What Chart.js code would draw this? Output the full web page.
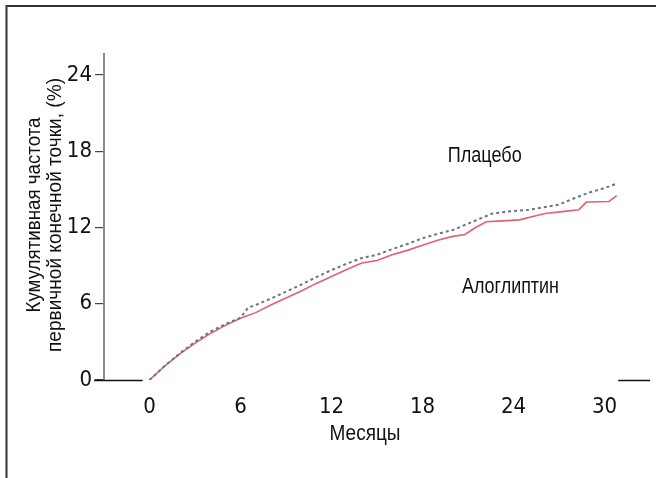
<!DOCTYPE html>
<html>
<head>
<meta charset="utf-8">
<script src="https://cdn.jsdelivr.net/npm/chart.js@4.4.1/dist/chart.umd.min.js"></script>
<style>
  html, body { margin: 0; padding: 0; background: #ffffff; }
  #wrap { width: 656px; height: 478px; position: relative; }
</style>
</head>
<body>
<div id="wrap"><canvas id="c" width="656" height="478"></canvas></div>
<script>
// ---- data ----
const xTickValues = [0, 6, 12, 18, 24, 30];
const yTickValues = [0, 6, 12, 18, 24];

const placeboMonths = [0, 1, 2, 3, 4, 5, 6, 6.5, 7, 8, 9, 10, 11, 12, 13, 14, 15, 16, 17, 18, 19, 20, 21, 22, 22.6, 24, 25, 26, 27, 28, 29, 30, 30.8];
const placeboValues = [0, 1.1, 2.1, 3.0, 3.8, 4.4, 4.9, 5.7, 5.9, 6.4, 6.95, 7.5, 8.1, 8.65, 9.15, 9.6, 9.85, 10.3, 10.7, 11.15, 11.5, 11.8, 12.3, 12.8, 13.1, 13.3, 13.4, 13.6, 13.8, 14.3, 14.75, 15.1, 15.45];

const alogliptinMonths = [0, 1, 2, 3, 4, 5, 6, 7, 8, 9, 10, 11, 12, 13, 14, 15, 16, 17, 18, 19, 20, 20.8, 21.5, 22.2, 23, 24.4, 25.2, 26.1, 27.2, 28.3, 28.8, 30.3, 30.8];
const alogliptinValues = [0, 1.1, 2.05, 2.9, 3.65, 4.3, 4.85, 5.3, 5.9, 6.45, 7.0, 7.6, 8.15, 8.7, 9.2, 9.4, 9.85, 10.2, 10.6, 11.0, 11.3, 11.45, 12.0, 12.45, 12.5, 12.6, 12.85, 13.1, 13.25, 13.4, 14.0, 14.05, 14.5];

const seriesNames = ['Плацебо', 'Алоглиптин'];
const labelPositions = [[22.1, 17.6], [23.8, 7.3]]; // [month, value] anchors for the text labels
const xTitle = 'Месяцы';
const yTitleLines = ['Кумулятивная частота', 'первичной конечной точки, (%)'];

const TICK_FONT = "'DejaVu Sans Condensed', 'Liberation Sans', sans-serif";
const TEXT_FONT = "'Liberation Sans', Arial, sans-serif";

function toPoints(xs, ys) { return xs.map((x, i) => ({ x: x, y: ys[i] })); }

// draw text condensed horizontally (like Helvetica Condensed in the original)
function narrowText(ctx, text, x, y, size, targetWidth, rotate) {
  ctx.save();
  ctx.font = size + 'px ' + TEXT_FONT;
  const w = ctx.measureText(text).width;
  const sx = targetWidth / w;
  ctx.translate(x, y);
  if (rotate) ctx.rotate(-Math.PI / 2);
  ctx.scale(sx, 1);
  ctx.textAlign = 'center';
  ctx.textBaseline = 'middle';
  ctx.fillStyle = '#111111';
  ctx.fillText(text, 0, 0);
  ctx.restore();
}

const decorPlugin = {
  id: 'decor',
  beforeDraw(chart) {
    const ctx = chart.ctx;
    ctx.save();
    ctx.fillStyle = '#ffffff';
    ctx.fillRect(0, 0, chart.width, chart.height);
    ctx.restore();
  },
  afterDraw(chart) {
    const ctx = chart.ctx;
    const xs = chart.scales.x, ys = chart.scales.y;
    const area = chart.chartArea;
    ctx.save();
    // outer frame (top and left)
    ctx.strokeStyle = '#333333';
    ctx.lineWidth = 2;
    ctx.beginPath();
    ctx.moveTo(6, 6); ctx.lineTo(chart.width, 6);
    ctx.moveTo(6.5, 5); ctx.lineTo(6.5, chart.height);
    ctx.stroke();
    // x axis line, interrupted as in the original
    const y0 = Math.round(ys.getPixelForValue(0)) + 0.5;
    ctx.strokeStyle = '#111111';
    ctx.lineWidth = 1.3;
    ctx.beginPath();
    ctx.moveTo(area.left - 10, y0); ctx.lineTo(xs.getPixelForValue(-0.45), y0);
    ctx.moveTo(xs.getPixelForValue(30.9), y0); ctx.lineTo(area.right, y0);
    ctx.stroke();
    ctx.restore();
    // series labels
    narrowText(ctx, seriesNames[0], xs.getPixelForValue(labelPositions[0][0]), ys.getPixelForValue(labelPositions[0][1]), 22, 74, false);
    narrowText(ctx, seriesNames[1], xs.getPixelForValue(labelPositions[1][0]), ys.getPixelForValue(labelPositions[1][1]), 22, 97, false);
    // axis titles
    narrowText(ctx, xTitle, 365, 434, 22, 71, false);
    const cy = (area.top + area.bottom) / 2 - 2;
    narrowText(ctx, yTitleLines[0], 34, cy, 21, 195, true);
    narrowText(ctx, yTitleLines[1], 55, cy, 21, 274, true);
  }
};

new Chart(document.getElementById('c'), {
  type: 'line',
  data: {
    datasets: [
      {
        label: seriesNames[0],
        data: toPoints(placeboMonths, placeboValues),
        borderColor: '#69728f',
        borderWidth: 2,
        borderDash: [3, 3],
        pointRadius: 0,
        tension: 0,
        fill: false
      },
      {
        label: seriesNames[1],
        data: toPoints(alogliptinMonths, alogliptinValues),
        borderColor: '#e2606f',
        borderWidth: 1.6,
        pointRadius: 0,
        tension: 0,
        fill: false
      }
    ]
  },
  plugins: [decorPlugin],
  options: {
    responsive: false,
    animation: false,
    devicePixelRatio: 1,
    layout: { padding: { left: 0, top: 54, right: 6, bottom: 0 } },
    plugins: {
      legend: { display: false },
      tooltip: { enabled: false },
      title: { display: false }
    },
    scales: {
      x: {
        type: 'linear',
        min: -3,
        max: 33,
        afterBuildTicks(scale) { scale.ticks = xTickValues.map(v => ({ value: v })); },
        afterFit(scale) { scale.height = 98; },
        grid: { display: false, drawTicks: false },
        border: { display: false },
        ticks: {
          padding: 14,
          color: '#111111',
          font: { family: TICK_FONT, size: 22 },
          maxRotation: 0,
          autoSkip: false
        }
      },
      y: {
        type: 'linear',
        min: 0,
        max: 25.65,
        afterBuildTicks(scale) { scale.ticks = yTickValues.map(v => ({ value: v })); },
        afterFit(scale) { scale.width = 104; },
        grid: {
          display: true,
          drawOnChartArea: false,
          drawTicks: true,
          tickLength: 9,
          color: '#444444',
          lineWidth: 1.2
        },
        border: { display: true, color: '#8a8a8a', width: 2 },
        ticks: {
          padding: 3,
          color: '#111111',
          font: { family: TICK_FONT, size: 22 },
          autoSkip: false
        }
      }
    }
  }
});
</script>
</body>
</html>
